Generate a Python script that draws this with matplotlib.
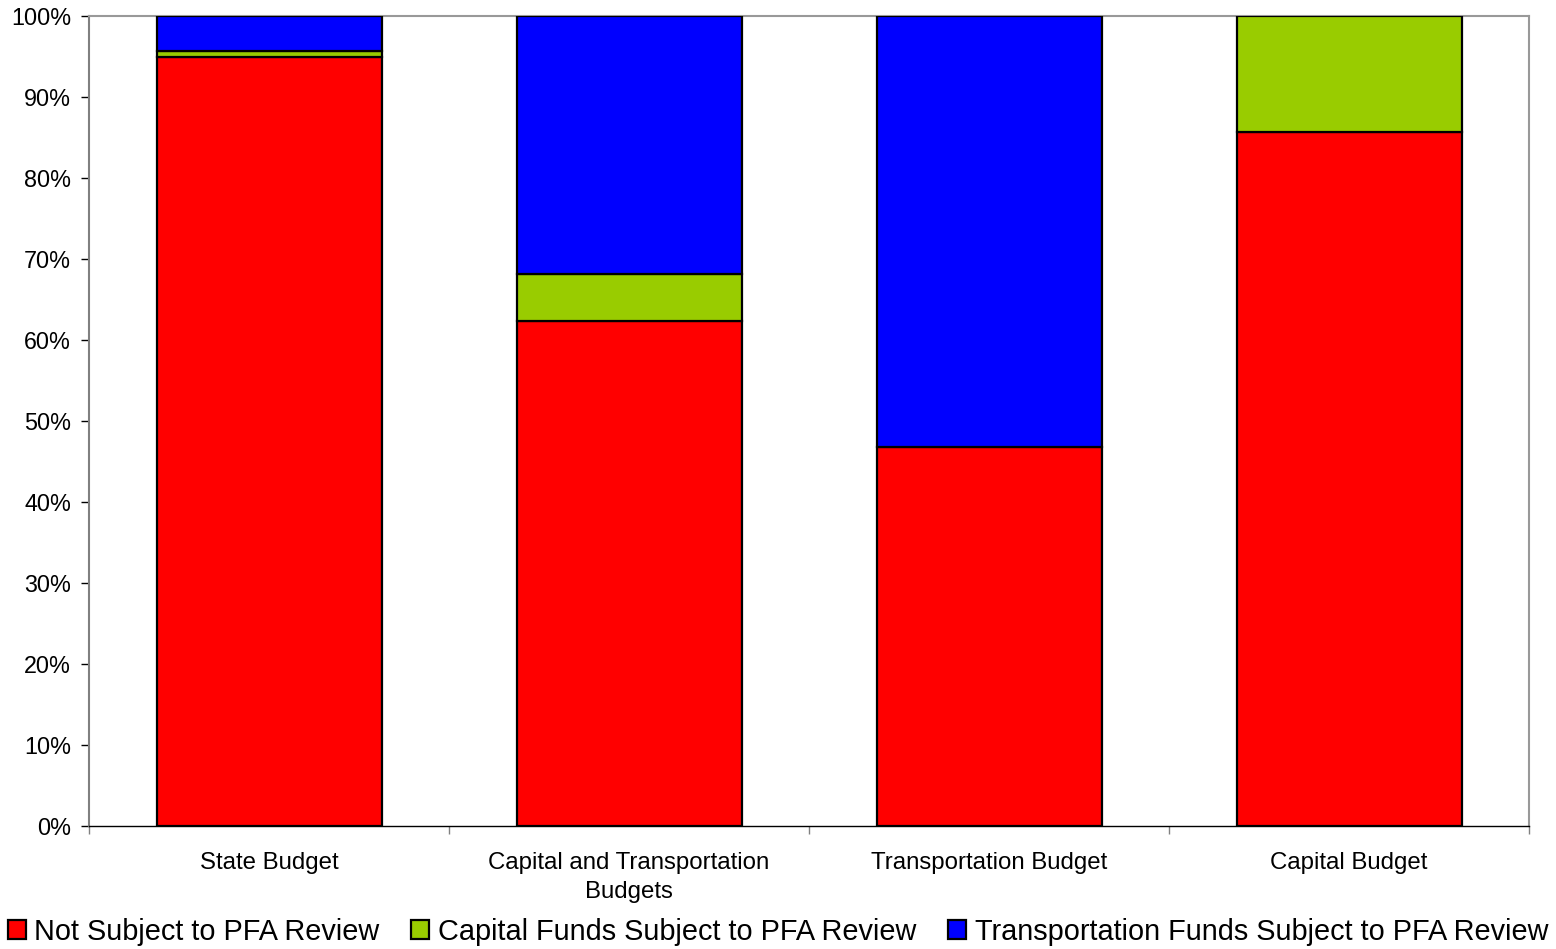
import matplotlib
matplotlib.use("Agg")
import matplotlib.pyplot as plt
from matplotlib.ticker import FuncFormatter, FixedLocator
import numpy as np

plt.rcParams['font.family'] = ['Liberation Sans', 'DejaVu Sans']

categories = ["State Budget", "Capital and Transportation\nBudgets", "Transportation Budget", "Capital Budget"]
not_subject = [94.9, 62.3, 46.8, 85.7]
capital_funds = [0.8, 5.8, 0.0, 14.3]
transport_funds = [4.3, 31.9, 53.2, 0.0]
series_names = ["Not Subject to PFA Review", "Capital Funds Subject to PFA Review",
                "Transportation Funds Subject to PFA Review"]
colors = ["#FF0000", "#99CC00", "#0000FF"]

fig = plt.figure(figsize=(15.56, 9.49), dpi=100)
ax = fig.add_axes([89/1556, 1-826/949, 1440/1556, 810/949])

x = np.arange(len(categories))
bottom = np.zeros(len(categories))
handles = []
for vals, name, c in zip([not_subject, capital_funds, transport_funds], series_names, colors):
    vals = np.array(vals)
    mask = vals > 0
    b = ax.bar(x[mask], vals[mask], bottom=bottom[mask], width=0.625, color=c,
               edgecolor="black", linewidth=1.6, label=name, zorder=3)
    handles.append(b)
    bottom += vals

ax.set_xlim(-0.5, len(categories) - 0.5)
ax.set_ylim(0, 100)
ax.yaxis.set_major_locator(FixedLocator(np.arange(0, 101, 10)))
ax.yaxis.set_major_formatter(FuncFormatter(lambda v, p: f"{int(round(v))}%"))
ax.set_xticks(x)
ax.set_xticklabels(categories, fontsize=17.3, linespacing=1.4)
ax.tick_params(axis='x', length=0, pad=19)
ax.set_xticks(np.arange(-0.5, len(categories), 1), minor=True)
ax.tick_params(axis='x', which='minor', length=6, color='#808080', width=1)
ax.tick_params(axis='y', labelsize=16.8, length=6, color='#000000', width=1, pad=7)

for s in ['top', 'right', 'left']:
    ax.spines[s].set_color('#999999')
    ax.spines[s].set_linewidth(1.5)
ax.spines['left'].set_color('#808080')
ax.spines['bottom'].set_color('#000000')
ax.spines['bottom'].set_linewidth(1)

leg = fig.legend(handles=handles, labels=series_names, loc='center', ncol=3,
                 bbox_to_anchor=(0.5, 1-932/949), frameon=False, fontsize=20.8,
                 handlelength=0.62, handleheight=0.62, handletextpad=0.3,
                 columnspacing=1.1, borderaxespad=0)

fig.savefig("out.png", dpi=100)
